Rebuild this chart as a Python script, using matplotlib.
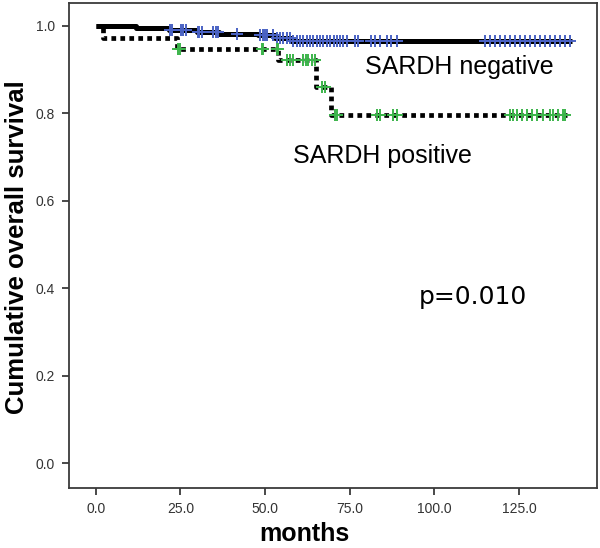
import numpy as np
import matplotlib
matplotlib.use("Agg")
import matplotlib.pyplot as plt

plt.rcParams['font.family'] = ['Liberation Sans', 'DejaVu Sans']

# Kaplan-Meier step data (time in months, survival)
neg_times = [0, 12.0, 21.5, 30.0, 36.5, 48.0, 53.0, 57.5, 140.5]
neg_surv = [1.0, 0.995, 0.990, 0.986, 0.982, 0.978, 0.972, 0.966, 0.966]

pos_times = [0, 2.2, 23.9, 53.9, 65.0, 69.4, 139.0]
pos_surv = [1.0, 0.973, 0.947, 0.921, 0.861, 0.797, 0.797]

# censored observation times
neg_censor = [22.0, 22.6, 25.2, 25.8, 26.6, 30.1, 30.6, 31.3, 34.7, 35.4, 36.2, 41.6,
              48.5, 49.3, 50.0, 50.5, 52.4, 53.4, 54.4, 55.4, 56.4, 57.4, 58.3, 59.3,
              60.3, 61.3, 62.3, 63.2, 64.2, 65.2, 66.2, 67.2, 68.2, 69.2, 70.2, 71.2,
              72.1, 73.1, 74.1, 76.5, 77.5, 81.4, 82.4, 83.9, 85.9, 87.3, 88.8,
              114.9, 116.4, 117.9, 119.3, 120.8, 122.3, 123.8, 125.3, 126.7, 128.2,
              129.7, 131.2, 132.7, 134.2, 135.6, 137.1, 138.6, 140.1]
pos_censor = [24.2, 24.9, 49.0, 49.5, 53.4, 53.7, 56.4, 57.4, 58.1, 61.3, 62.1, 62.8,
              63.7, 64.7, 66.7, 67.7, 70.6, 71.1, 83.0, 83.9, 87.9, 88.8,
              122.3, 123.3, 124.3, 125.7, 127.2, 128.7, 130.2, 132.1, 134.1, 135.1,
              136.5, 138.0, 138.5]

x_ticks = [0, 25, 50, 75, 100, 125]
y_ticks = [0.0, 0.2, 0.4, 0.6, 0.8, 1.0]


def surv_at(times, surv, t):
    idx = np.searchsorted(np.asarray(times), np.asarray(t), side='right') - 1
    return np.asarray(surv)[idx]


fig = plt.figure(figsize=(6.0, 5.48), dpi=100)
ax = fig.add_axes([0.115, 0.109, 0.8795, 0.886])

ax.step(neg_times, neg_surv, where='post', color='black', lw=3.6, zorder=2,
        solid_capstyle='butt')
ax.step(pos_times, pos_surv, where='post', color='black', lw=3.4,
        linestyle=(0, (1, 0.9)), zorder=2, dash_capstyle='butt')

ax.plot(neg_censor, surv_at(neg_times, neg_surv, neg_censor), linestyle='none',
        marker='+', color='#4a62c4', markersize=8, markeredgewidth=1.4, zorder=3)
ax.plot(pos_censor, surv_at(pos_times, pos_surv, pos_censor), linestyle='none',
        marker='+', color='#3cb44b', markersize=8, markeredgewidth=1.4, zorder=3)

ax.set_xlim(-7.9, 147.9)
ax.set_ylim(-0.057, 1.0527)
ax.set_xticks(x_ticks)
ax.set_xticklabels([f"{v:.1f}" for v in x_ticks])
ax.set_yticks(y_ticks)
ax.set_yticklabels([f"{v:.1f}" for v in y_ticks])

for s in ax.spines.values():
    s.set_color('#3a3a3a')
    s.set_linewidth(1.3)
ax.tick_params(axis='both', direction='out', length=5, width=1.3, color='#3a3a3a',
               labelcolor='#333333', labelsize=10, pad=5)

fig.text(304 / 600, 1 - 534 / 548, 'months', fontsize=18, fontweight='bold',
         ha='center', va='center')
fig.text(17 / 600, 1 - 247 / 548, 'Cumulative overall survival', fontsize=18.5,
         fontweight='bold', ha='center', va='center', rotation=90)

ax.text(79.5, 0.905, 'SARDH negative', fontsize=18, ha='left', va='center')
ax.text(58.2, 0.702, 'SARDH positive', fontsize=18, ha='left', va='center')
ax.text(95.3, 0.380, 'p=0.010', fontsize=18, ha='left', va='center',
        family=['DejaVu Sans'])

fig.savefig('out.png', dpi=100)
